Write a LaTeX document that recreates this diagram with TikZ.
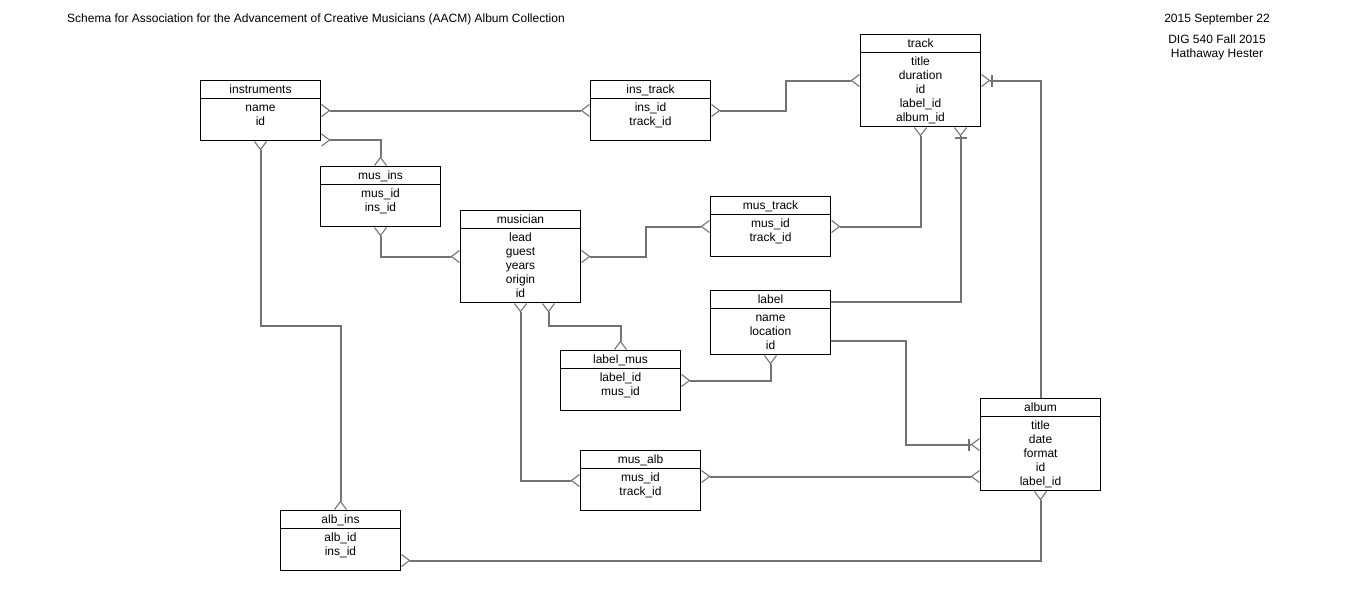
\documentclass[tikz,border=0pt]{standalone}
\usepackage{fontspec}
\setmainfont{Liberation Sans}
\usetikzlibrary{arrows.meta}

\tikzset{
  ermany/.tip={Straight Barb[reversed, length=8pt 0, width=12pt 0, line width=1.1pt]},
  onemany/.tip={Bar[width=12pt 0, sep=1pt 0, line width=1.1pt] Straight Barb[reversed, length=8pt 0, width=12pt 0, line width=1.1pt]}
}

% one table: name, x, y (top left), height, title, fields
\newcommand{\ertable}[6]{%
  \node[tbl, minimum height=#4pt] (#1) at (#2,#3) {};
  \draw ([yshift=-18pt]#1.north west) -- ([yshift=-18pt]#1.north east);
  \node[anchor=base] (#1-head) at ([yshift=-13pt]#1.north) {#5};
  \node[fields] (#1-body) at ([yshift=-21.2pt]#1.north) {\strut#6};
}

\begin{document}
\begin{tikzpicture}[x=1pt, y=-1pt, font=\fontsize{12}{14}\selectfont]
\tikzstyle{tbl} = [draw, fill=white, line width=1pt, anchor=north west, minimum width=120pt, inner sep=0pt]
\tikzstyle{fields} = [anchor=north, align=center, inner sep=0pt]
\tikzstyle{link} = [draw=black!55, line width=2pt]
\useasboundingbox (0,0) rectangle (1352,590);

\node[anchor=base west, inner sep=0pt] (title) at (67,22) {Schema for Association for the Advancement of Creative Musicians (AACM) Album Collection};
\node[anchor=base] (date) at (1217,22) {2015 September 22};
\node[anchor=base] (course) at (1217,43.5) {DIG 540 Fall 2015};
\node[anchor=base] (author) at (1217,57.5) {Hathaway Hester};

\ertable{instruments}{200}{80}{60}{instruments}{name\\id}
\ertable{ins_track}{590}{80}{60}{ins\_track}{ins\_id\\track\_id}
\ertable{track}{860}{34}{92}{track}{title\\duration\\id\\label\_id\\album\_id}
\ertable{mus_ins}{320}{166}{60}{mus\_ins}{mus\_id\\ins\_id}
\ertable{musician}{460}{210}{92}{musician}{lead\\guest\\years\\origin\\id}
\ertable{mus_track}{710}{196}{60}{mus\_track}{mus\_id\\track\_id}
\ertable{label}{710}{290}{64}{label}{name\\location\\id}
\ertable{label_mus}{560}{350}{60}{label\_mus}{label\_id\\mus\_id}
\ertable{album}{980}{398}{92}{album}{title\\date\\format\\id\\label\_id}
\ertable{mus_alb}{580}{450}{60}{mus\_alb}{mus\_id\\track\_id}
\ertable{alb_ins}{280}{510}{60}{alb\_ins}{alb\_id\\ins\_id}

\draw[link, ermany-ermany] (instruments.east) -- (ins_track.west);
\draw[link, ermany-ermany] ([yshift=1pt]instruments.south east) -| (mus_ins.north);
\draw[link, ermany-ermany] (instruments.south) -- ++(0,185) -| (alb_ins.north);
\draw[link, ermany-ermany] (ins_track.east) -- ++(75,0) |- (track.west);
\draw[link, onemany-] (track.east) -| (album.north);
\draw[link, onemany-] ([xshift=40pt]track.south) |- ([yshift=21pt]label.east);
\draw[link, ermany-ermany] (musician.east) -- ++(65,0) |- (mus_track.west);
\draw[link, ermany-ermany] ([xshift=28pt]musician.south) -- ++(0,23) -| (label_mus.north);
\draw[link, -onemany] ([yshift=-18pt]label.east) -- ++(75,0) |- (album.west);
\draw[link, ermany-ermany] ([yshift=4pt]mus_alb.east) -- ([yshift=-32pt]album.west);
\draw[link, ermany-ermany] (album.south) |- ([yshift=-20pt]alb_ins.east);
\foreach \from/\to in {track.south/mus_track.east, mus_ins.south/musician.west, musician.south/mus_alb.west, label.south/label_mus.east}
  \draw[link, ermany-ermany] (\from) |- (\to);
\end{tikzpicture}
\end{document}
